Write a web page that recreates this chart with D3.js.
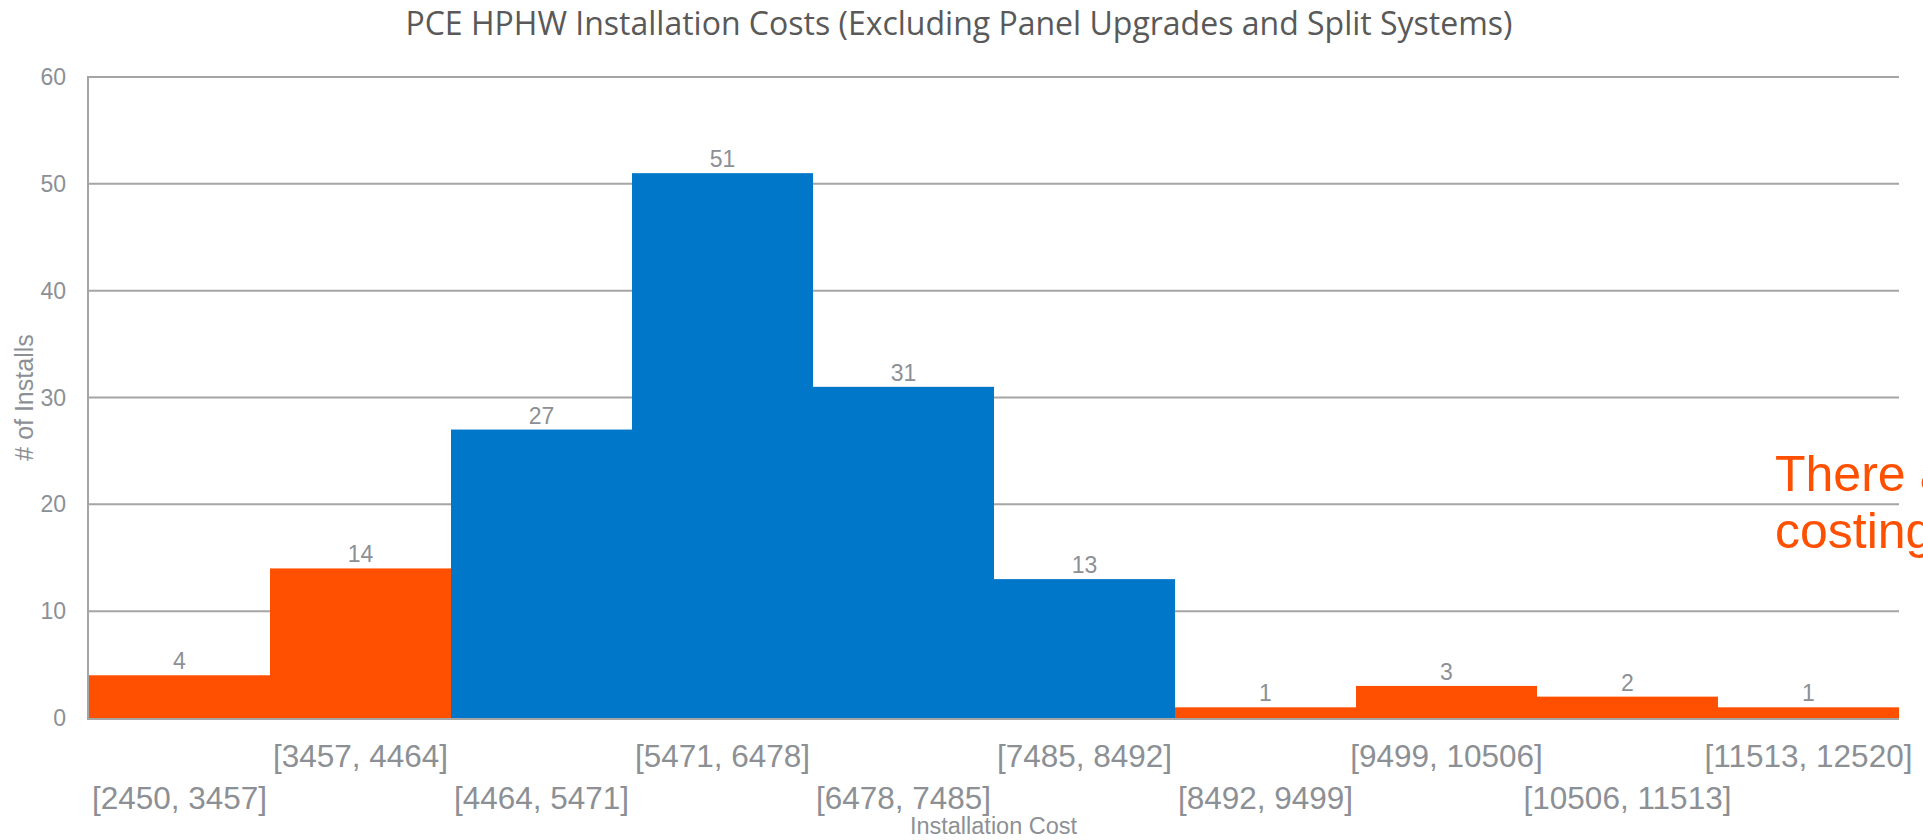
<!DOCTYPE html>
<html>
<head>
<meta charset="utf-8">
<script src="https://cdn.jsdelivr.net/npm/d3@7"></script>
<style>
  html, body { margin: 0; padding: 0; background: #fff; overflow: hidden; }
  svg { display: block; }
</style>
</head>
<body>
<svg id="chart"></svg>
<script>
  // histogram bins (cost ranges) and counts
  var binLabels = ["[2450, 3457]", "[3457, 4464]", "[4464, 5471]", "[5471, 6478]", "[6478, 7485]",
                   "[7485, 8492]", "[8492, 9499]", "[9499, 10506]", "[10506, 11513]", "[11513, 12520]"];
  var counts = [4, 14, 27, 51, 31, 13, 1, 3, 2, 1];
  var binGroup = ["tail", "tail", "core", "core", "core", "core", "tail", "tail", "tail", "tail"];
  var yTicks = [0, 10, 20, 30, 40, 50, 60];
  var noteLines = ["There are", "costing"];

  var outerWidth = 1923,
      outerHeight = 840,
      margin = { top: 77, right: 24, bottom: 122, left: 88 };

  var grey = "#8c9095",
      gridGrey = "#a5a5a5";

  var color = d3.scaleOrdinal()
      .domain(["tail", "core"])
      .range(["#fe5000", "#0077c8"]);

  var x = d3.scaleBand()
      .domain(binLabels)
      .range([margin.left + 1, outerWidth - margin.right])
      .padding(0);

  var y = d3.scaleLinear()
      .domain([0, 60])
      .range([outerHeight - margin.bottom, margin.top]);

  var svg = d3.select("#chart")
      .attr("width", outerWidth)
      .attr("height", outerHeight);

  // title
  svg.append("text")
      .attr("x", 959)
      .attr("y", 35)
      .attr("text-anchor", "middle")
      .attr("font-family", "'Open Sans', sans-serif")
      .attr("font-size", "32px")
      .attr("fill", "#595959")
      .text("PCE HPHW Installation Costs (Excluding Panel Upgrades and Split Systems)");

  // gridlines
  svg.append("g")
    .selectAll("line")
    .data(yTicks.filter(d => d > 0))
    .join("line")
      .attr("x1", margin.left)
      .attr("x2", outerWidth - margin.right)
      .attr("y1", d => y(d))
      .attr("y2", d => y(d))
      .attr("stroke", gridGrey)
      .attr("stroke-width", 2);

  // bars
  svg.append("g")
    .selectAll("rect")
    .data(counts)
    .join("rect")
      .attr("x", (d, i) => x(binLabels[i]))
      .attr("width", x.bandwidth())
      .attr("y", d => y(d))
      .attr("height", d => y(0) - y(d))
      .attr("fill", (d, i) => color(binGroup[i]));

  // axis lines
  svg.append("line")
      .attr("x1", margin.left)
      .attr("x2", outerWidth - margin.right)
      .attr("y1", y(0) + 1)
      .attr("y2", y(0) + 1)
      .attr("stroke", gridGrey)
      .attr("stroke-width", 2);

  svg.append("line")
      .attr("x1", margin.left)
      .attr("x2", margin.left)
      .attr("y1", y(60) - 1)
      .attr("y2", y(0) + 2)
      .attr("stroke", gridGrey)
      .attr("stroke-width", 2);

  // y tick labels
  svg.append("g")
      .attr("text-anchor", "end")
      .attr("font-family", "'Liberation Sans', Arial, sans-serif")
      .attr("font-size", "23px")
      .attr("fill", grey)
    .selectAll("text")
    .data(yTicks)
    .join("text")
      .attr("x", margin.left - 22)
      .attr("y", d => y(d))
      .attr("dy", "0.35em")
      .text(d => d);

  // value labels
  svg.append("g")
      .attr("text-anchor", "middle")
      .attr("font-family", "'Liberation Sans', Arial, sans-serif")
      .attr("font-size", "23px")
      .attr("fill", grey)
    .selectAll("text")
    .data(counts)
    .join("text")
      .attr("x", (d, i) => x(binLabels[i]) + x.bandwidth() / 2)
      .attr("y", d => y(d) - 6)
      .text(d => d);

  // x category labels, staggered on two rows
  svg.append("g")
      .attr("text-anchor", "middle")
      .attr("font-family", "'Liberation Sans', Arial, sans-serif")
      .attr("font-size", "31.5px")
      .attr("fill", grey)
    .selectAll("text")
    .data(binLabels)
    .join("text")
      .attr("x", d => x(d) + x.bandwidth() / 2)
      .attr("y", (d, i) => i % 2 === 1 ? 767 : 809)
      .text(d => d);

  // axis titles
  svg.append("text")
      .attr("x", (margin.left + outerWidth - margin.right) / 2)
      .attr("y", 834)
      .attr("text-anchor", "middle")
      .attr("font-family", "'Liberation Sans', Arial, sans-serif")
      .attr("font-size", "23.5px")
      .attr("fill", grey)
      .text("Installation Cost");

  svg.append("text")
      .attr("transform", `translate(33,${(y(0) + y(60)) / 2}) rotate(-90)`)
      .attr("text-anchor", "middle")
      .attr("font-family", "'Liberation Sans', Arial, sans-serif")
      .attr("font-size", "25px")
      .attr("fill", grey)
      .text("# of Installs");

  // annotation (runs off the right edge)
  svg.append("g")
      .attr("font-family", "'Liberation Sans', Arial, sans-serif")
      .attr("font-size", "50px")
      .attr("fill", "#fe5000")
    .selectAll("text")
    .data(noteLines)
    .join("text")
      .attr("x", 1775)
      .attr("y", (d, i) => 491 + i * 57)
      .text(d => d);
</script>
</body>
</html>
